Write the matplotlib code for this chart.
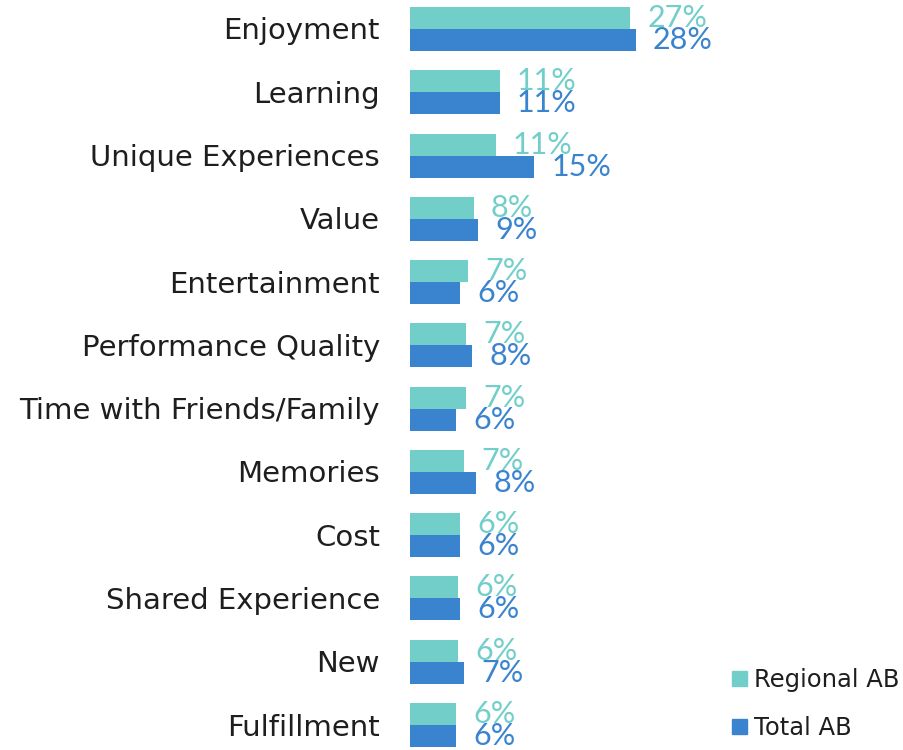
import numpy as np
import matplotlib
matplotlib.use("Agg")
import matplotlib.pyplot as plt
from matplotlib.patches import Patch

plt.rcParams['font.family'] = ['DejaVu Sans']

# data
categories = ["Enjoyment", "Learning", "Unique Experiences", "Value", "Entertainment",
              "Performance Quality", "Time with Friends/Family", "Memories", "Cost",
              "Shared Experience", "New", "Fulfillment"]
regional = [27.3, 11.15, 10.65, 7.9, 7.2, 6.95, 6.95, 6.7, 6.2, 5.95, 5.95, 5.7]
total = [28.0, 11.15, 15.4, 8.45, 6.2, 7.7, 5.7, 8.2, 6.2, 6.2, 6.7, 5.7]
regional_labels = ["27%", "11%", "11%", "8%", "7%", "7%", "7%", "7%", "6%", "6%", "6%", "6%"]
total_labels = ["28%", "11%", "15%", "9%", "6%", "8%", "6%", "8%", "6%", "6%", "7%", "6%"]

teal = "#72CEC9"
blue = "#3A83CF"
dark = "#1e1e1e"

fig = plt.figure(figsize=(9.04, 7.5), dpi=100)
ax = fig.add_axes([410 / 904, 0, 494 / 904, 1])

y = np.arange(len(categories))
h = 0.348
ax.barh(y - h / 2, regional, height=h, color=teal)
ax.barh(y + h / 2, total, height=h, color=blue)

# value labels at bar ends
for i in range(len(categories)):
    ax.annotate(regional_labels[i], (regional[i], y[i] - h / 2), xytext=(17, 0),
                textcoords="offset pixels", va="center", ha="left",
                fontsize=22, color=teal, family=["Lato", "DejaVu Sans"])
    ax.annotate(total_labels[i], (total[i], y[i] + h / 2), xytext=(17, 0),
                textcoords="offset pixels", va="center", ha="left",
                fontsize=22, color=blue, family=["Lato", "DejaVu Sans"])
    # category name on the left
    ax.annotate(categories[i], (0, y[i]), xytext=(-30, -10.5),
                textcoords="offset pixels", va="baseline", ha="right",
                fontsize=21, color=dark, annotation_clip=False)

ax.set_xlim(0, 494 / 8.07)
ax.set_ylim(11.395, -0.458)
ax.axis("off")

handles = [Patch(color=teal, label="Regional AB"), Patch(color=blue, label="Total AB")]
fig.legend(handles=handles, loc="upper left", bbox_to_anchor=(732 / 904, 1 - 668 / 750),
           frameon=False, fontsize=17.5, handlelength=0.6, handleheight=0.6,
           handletextpad=0.3, borderpad=0, borderaxespad=0, labelspacing=0.98,
           labelcolor=dark)

fig.savefig("out.png", dpi=100)
